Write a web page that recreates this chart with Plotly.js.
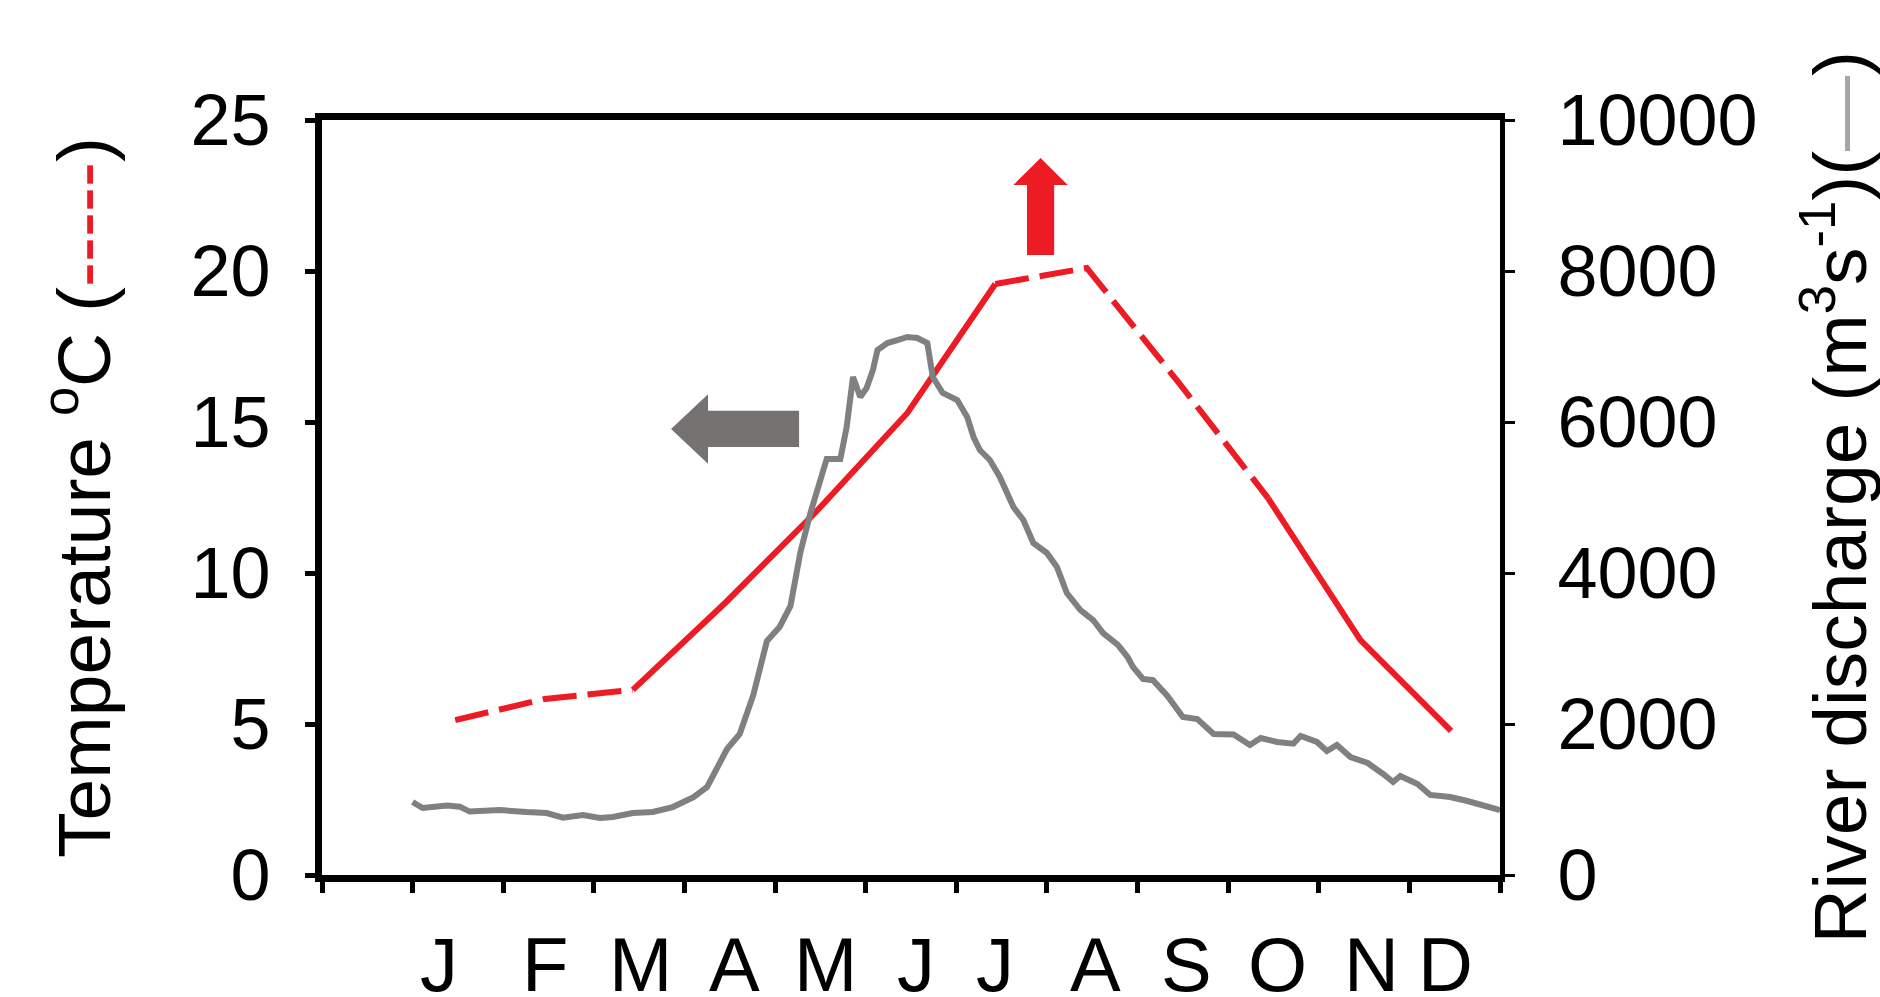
<!DOCTYPE html>
<html>
<head>
<meta charset="utf-8">
<script src="https://cdn.plot.ly/plotly-3.0.1.min.js"></script>
<style>html,body{margin:0;padding:0;background:#fff;}#chart{width:1880px;height:997px;}</style>
</head>
<body>
<div id="chart"></div>
<script>
// ---- data ----
const monthLabels = ['J','F','M','A','M','J','J','A','S','O','N','D'];
const monthLabelPos = [0.29, 1.46, 2.51, 3.55, 4.56, 5.56, 6.43, 7.54, 8.54, 9.55, 10.58, 11.40];

// monthly mean water temperature (degC), plotted mid-month
const tempMonth = [0.47, 1.46, 2.43, 3.46, 4.45, 5.46, 6.43, 7.44, 8.45, 9.44, 10.46, 11.46];
const tempC = [5.13, 5.83, 6.13, 9.04, 12.02, 15.30, 19.57, 20.10, 16.32, 12.48, 7.78, 4.77];

// daily river discharge (m3/s) (x in months from 1 Jan)
const dischargeMonth = [0.00,0.11,0.38,0.52,0.63,0.96,1.26,1.48,1.66,1.88,2.07,2.21,2.43,2.65,2.87,
  3.10,3.25,3.36,3.47,3.61,3.76,3.91,4.05,4.17,4.28,4.39,4.46,4.57,4.72,4.79,4.86,4.94,5.01,5.08,
  5.13,5.24,5.35,5.46,5.57,5.68,5.71,5.74,5.85,6.01,6.12,6.19,6.26,6.37,6.48,6.63,6.74,6.85,7.00,
  7.11,7.22,7.37,7.51,7.62,7.78,7.89,7.95,8.06,8.17,8.33,8.50,8.66,8.84,9.06,9.24,9.36,9.54,9.72,
  9.80,9.98,10.09,10.20,10.35,10.54,10.71,10.82,10.90,11.09,11.23,11.45,11.64,11.81,12.00];
const discharge = [967,887,920,905,840,860,834,821,760,795,755,768,821,834,900,
  1030,1166,1430,1669,1868,2384,3099,3285,3563,4278,4795,5086,5510,5510,5934,6596,6331,6450,6689,
  6954,7046,7086,7126,7113,7046,6821,6596,6384,6291,6066,5801,5629,5497,5272,4874,4702,4397,4265,
  4079,3735,3510,3377,3205,3050,2887,2755,2596,2580,2371,2093,2066,1868,1860,1722,1815,1762,1740,
  1841,1762,1642,1722,1563,1483,1338,1232,1311,1205,1060,1033,980,914,861];

const tempTicks = [0, 5, 10, 15, 20, 25];
const dischargeTicks = [0, 2000, 4000, 6000, 8000, 10000];
const dischargeTickText = ['0', '2000', '4000', '6000', '8000', '10000'];
const monthTicks = [-1,0,1,2,3,4,5,6,7,8,9,10,11,12];

const tempTitle = "Temperature <sup>o</sup>C (<span style='color:#ED1C24'>-----</span>)";
const dischargeTitle = "River discharge (m<sup>3</sup>s<sup>-1</sup>)(<span style='color:#A6A6A6'>—</span>)";

// segments of the temperature line: [start index, end index, dashed?]
const tempSegments = [[0,2,true],[2,6,false],[6,9,true],[9,11,false]];

// ---- styles ----
const FONT = 'Liberation Sans, Arial, Helvetica, sans-serif';
const RED = '#ED1C24';
const GREY = '#808080';

const traces = [{
  x: dischargeMonth, y: discharge, yaxis: 'y2', type: 'scatter', mode: 'lines',
  line: {color: GREY, width: 6}, name: 'River discharge', hoverinfo: 'x+y'
}];
tempSegments.forEach(([a, b, dashed]) => {
  traces.push({
    x: tempMonth.slice(a, b + 1), y: tempC.slice(a, b + 1), yaxis: 'y', type: 'scatter', mode: 'lines',
    line: {color: RED, width: 6, dash: dashed ? '34px,11px' : 'solid'},
    name: 'Temperature', showlegend: false
  });
});

const annotations = monthLabels.map((t, i) => ({
  text: t, x: monthLabelPos[i], xref: 'x', y: -0.118, yref: 'paper',
  xanchor: 'center', yanchor: 'middle', showarrow: false,
  font: {family: FONT, size: 76, color: '#000'}
}));
// right-hand axis title (placed as a rotated annotation so it can sit at the page edge)
annotations.push({
  text: dischargeTitle, x: 1.2836, xref: 'paper', y: 0.5, yref: 'paper',
  xanchor: 'center', yanchor: 'middle', textangle: -90, showarrow: false,
  font: {family: FONT, size: 75, color: '#000'}
});

function arrowLeft(tipX, tipY, headX, headHalf, shaftEnd, shaftHalf) {
  return `M ${tipX} ${tipY} L ${headX} ${tipY + headHalf} L ${headX} ${tipY + shaftHalf} L ${shaftEnd} ${tipY + shaftHalf} ` +
         `L ${shaftEnd} ${tipY - shaftHalf} L ${headX} ${tipY - shaftHalf} L ${headX} ${tipY - headHalf} Z`;
}
function arrowUp(tipX, tipY, headY, headHalf, shaftEnd, shaftHalf) {
  return `M ${tipX} ${tipY} L ${tipX + headHalf} ${headY} L ${tipX + shaftHalf} ${headY} L ${tipX + shaftHalf} ${shaftEnd} ` +
         `L ${tipX - shaftHalf} ${shaftEnd} L ${tipX - shaftHalf} ${headY} L ${tipX - headHalf} ${headY} Z`;
}

const shapes = [
  {type: 'path', xref: 'x', yref: 'y', path: arrowLeft(2.852, 14.77, 3.26, 1.15, 4.265, 0.6),
   fillcolor: '#767271', line: {width: 0}},
  {type: 'path', xref: 'x', yref: 'y', path: arrowUp(6.93, 23.74, 22.85, 0.30, 20.53, 0.15),
   fillcolor: RED, line: {width: 0}}
];

const layout = {
  width: 1880, height: 997,
  margin: {l: 322, r: 380, t: 120, b: 122, pad: 0},
  paper_bgcolor: '#fff', plot_bgcolor: '#fff',
  showlegend: false,
  font: {family: FONT, color: '#000'},
  xaxis: {
    range: [-1, 12], tickvals: monthTicks, showticklabels: false,
    ticks: 'outside', ticklen: 11, tickwidth: 5, tickcolor: '#000',
    showline: true, linewidth: 7, linecolor: '#000', mirror: true,
    showgrid: false, zeroline: false
  },
  yaxis: {
    range: [0, 25], tickvals: tempTicks, ticks: 'outside', ticklen: 10, tickwidth: 5, tickcolor: '#000',
    showline: true, linewidth: 7, linecolor: '#000', showgrid: false, zeroline: false,
    tickfont: {family: FONT, size: 72, color: '#000'}, ticklabelstandoff: 20,
    title: {text: tempTitle, font: {family: FONT, size: 75, color: '#000'}, standoff: 58}
  },
  yaxis2: {
    range: [0, 10000], tickvals: dischargeTicks, ticktext: dischargeTickText,
    overlaying: 'y', side: 'right', anchor: 'x',
    ticks: 'outside', ticklen: 10, tickwidth: 3, tickcolor: '#000',
    showline: true, linewidth: 5, linecolor: '#000', showgrid: false, zeroline: false,
    tickfont: {family: FONT, size: 72, color: '#000'}, ticklabelstandoff: 28
  },
  annotations: annotations,
  shapes: shapes
};

Plotly.newPlot('chart', traces, layout, {displayModeBar: false, staticPlot: true});
</script>
</body>
</html>
